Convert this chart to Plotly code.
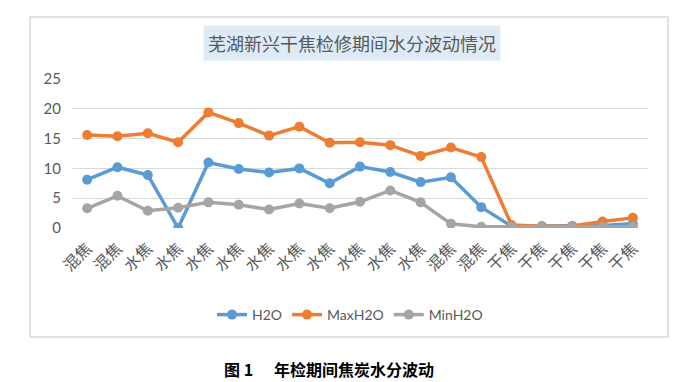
import plotly.graph_objects as go

categories = ["混焦", "混焦", "水焦", "水焦", "水焦", "水焦", "水焦", "水焦", "水焦", "水焦",
              "水焦", "水焦", "混焦", "混焦", "干焦", "干焦", "干焦", "干焦", "干焦"]
h2o = [8.1, 10.2, 8.9, 0.0, 11.0, 9.9, 9.3, 10.0, 7.5, 10.3, 9.4, 7.7, 8.5, 3.5, 0.3, 0.3, 0.3, 0.4, 0.7]
max_h2o = [15.6, 15.4, 15.9, 14.4, 19.4, 17.6, 15.5, 17.0, 14.3, 14.4, 13.9, 12.1, 13.5, 11.9, 0.5, 0.3, 0.35, 1.1, 1.7]
min_h2o = [3.3, 5.4, 2.9, 3.4, 4.3, 3.9, 3.1, 4.1, 3.3, 4.4, 6.3, 4.3, 0.7, 0.2, 0.2, 0.2, 0.2, 0.2, 0.2]
y_ticks = [0, 5, 10, 15, 20, 25]

series = [("H2O", h2o, "#5b9bd5"), ("MaxH2O", max_h2o, "#ed7d31"), ("MinH2O", min_h2o, "#a5a5a5")]
xs = list(range(len(categories)))

fig = go.Figure()
for name, vals, color in series:
    fig.add_trace(go.Scatter(
        x=xs, y=vals, name=name, mode="lines+markers",
        line=dict(color=color, width=3.5),
        marker=dict(color=color, size=10),
    ))

# page body has an 8px margin; work in page pixel coords and shift
OFF = 8
W, H = 687 - OFF, 382 - OFF
L, R, T, B = 72 - OFF, 39, 79 - OFF, 154  # plot area: x 72..648, y 79..228 on page
pw, ph = W - L - R, H - T - B

def px(x):
    return (x - OFF - L) / pw

def py(y):
    return (H - B - (y - OFF)) / ph

fig.update_layout(
    width=W, height=H,
    margin=dict(l=L, r=R, t=T, b=B),
    paper_bgcolor="white", plot_bgcolor="white",
    showlegend=True,
    legend=dict(orientation="h", x=px(350), xanchor="center", y=py(315), yanchor="middle",
                font=dict(family="Lato, Noto Sans", size=14, color="#595959"),
                itemwidth=30, bgcolor="rgba(0,0,0,0)"),
    xaxis=dict(range=[-0.5, len(categories) - 0.5], tickmode="array", tickvals=xs,
               ticktext=categories, tickangle=-45, showgrid=False, zeroline=False,
               showline=False, ticks="", ticklabelstandoff=7,
               tickfont=dict(family="Noto Sans CJK SC", size=16, color="#595959")),
    yaxis=dict(range=[0, 25], tickmode="array", tickvals=y_ticks, showgrid=True,
               gridcolor="#d9d9d9", gridwidth=1, zeroline=False, showline=False, ticks="",
               ticklabelstandoff=10,
               tickfont=dict(family="Lato, Noto Sans", size=15, color="#595959")),
    shapes=[dict(type="rect", xref="paper", yref="paper",
                 x0=px(30), x1=px(668), y0=py(337), y1=py(17),
                 line=dict(color="#d9d9d9", width=1.5), fillcolor="rgba(0,0,0,0)", layer="below")],
    annotations=[
        dict(text="芜湖新兴干焦检修期间水分波动情况", xref="paper", yref="paper",
             x=px(352), y=py(43), xanchor="center", yanchor="middle", showarrow=False,
             bgcolor="#deebf7", borderpad=4,
             font=dict(family="Noto Sans CJK SC", size=18, color="#595959")),
        dict(text="<b>图 1</b>", xref="paper", yref="paper",
             x=px(222), y=py(369), xanchor="left", yanchor="middle", showarrow=False,
             font=dict(family="Noto Sans CJK SC", size=16, color="black")),
        dict(text="<b>年检期间焦炭水分波动</b>", xref="paper", yref="paper",
             x=px(272), y=py(369), xanchor="left", yanchor="middle", showarrow=False,
             font=dict(family="Noto Sans CJK SC", size=16, color="black")),
    ],
)

fig.write_html("out.html")
